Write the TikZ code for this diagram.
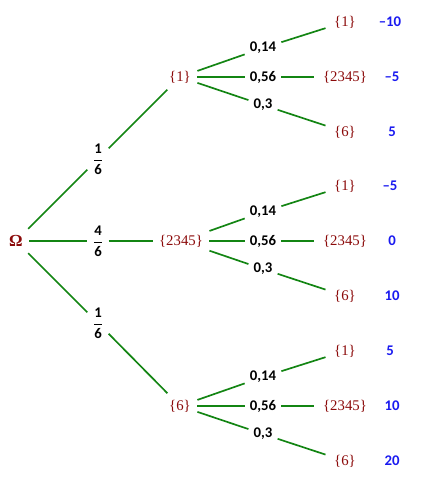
\documentclass[tikz,border=0pt]{standalone}
\usepackage{fontspec}
\usepackage{amsmath}
\setmainfont{Liberation Serif}
\newfontfamily\probfont{Carlito}
\usetikzlibrary{positioning}
\definecolor{evt}{HTML}{8B0A0A}
\definecolor{branche}{HTML}{138513}
\definecolor{gain}{HTML}{1A1AF0}
\newcommand{\fr}[2]{$\dfrac{\text{\probfont\bfseries #1}}{\text{\probfont\bfseries #2}}$}
\tikzset{
  evnt/.style={text=evt, font=\fontsize{10.5}{12}\selectfont, inner sep=4.5pt},
  proba/.style={font=\fontsize{10.5}{12}\selectfont\probfont\bfseries, inner sep=3.5pt},
  gainv/.style={text=gain, font=\fontsize{10.5}{12}\selectfont\probfont\bfseries},
  br/.style={draw=branche, line width=1.2pt},
}
\begin{document}
\begin{tikzpicture}[x=0.025cm, y=-0.025cm]
    \useasboundingbox (0,0) rectangle (429,490);
    \node[evnt, font=\fontsize{12}{13}\selectfont\bfseries] (om) at (16,241) {Ω};
    % premier niveau
    \node[evnt] (a) at (180,77) {\{1\}};
    \node[evnt] (b) at (181,241) {\{2345\}};
    \node[evnt] (c) at (180,406) {\{6\}};
    \node[proba] (pa) at (98,159) {\fr{1}{6}};
    \node[proba] (pb) at (98,241) {\fr{4}{6}};
    \node[proba] (pc) at (98,323) {\fr{1}{6}};
    \foreach \p in {a,b,c} {
      \draw[br] (om) -- (p\p);
      \draw[br] (p\p) -- (\p);
    }
    % second niveau
    \foreach \p/\y/\ga/\gb/\gc in {a/77/–10/–5/5, b/241/–5/0/10, c/406/5/10/20} {
      \node[proba] (\p-q1) at (263,\y-29) {0,14};
      \node[proba] (\p-q2) at (263,\y) {0,56};
      \node[proba] (\p-q3) at (263,\y+28) {0,3};
      \node[evnt, inner sep=6pt] (\p-1) at (345,\y-55) {\{1\}};
      \node[evnt, inner sep=6pt] (\p-2) at (345,\y) {\{2345\}};
      \node[evnt, inner sep=6pt] (\p-3) at (345,\y+55) {\{6\}};
      \node[gainv] (\p-g1) at (390,\y-55) {\ga};
      \node[gainv] (\p-g2) at (392,\y) {\gb};
      \node[gainv] (\p-g3) at (392,\y+55) {\gc};
      \foreach \i in {1,2,3} {
        \draw[br] (\p) -- (\p-q\i);
        \draw[br] (\p-q\i) -- (\p-\i);
      }
    }
  \end{tikzpicture}
\end{document}
